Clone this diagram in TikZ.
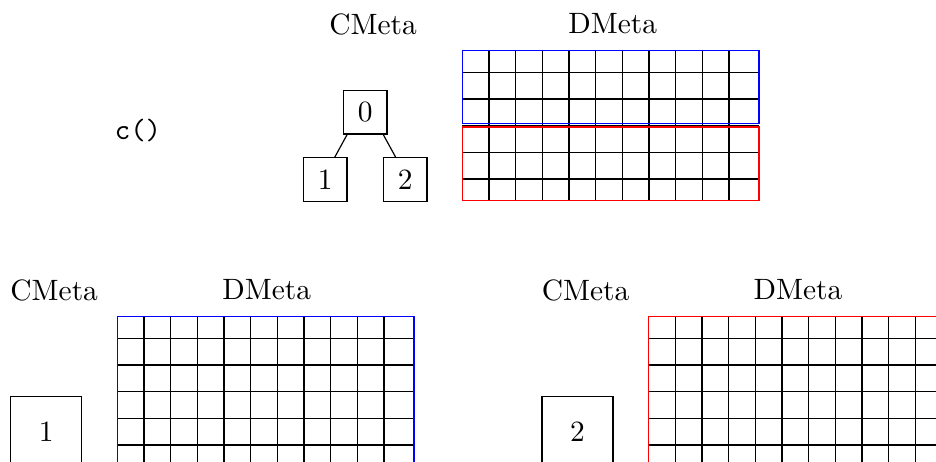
\documentclass[tikz,border=0pt]{standalone}
\usepackage{tikz}
\usetikzlibrary{positioning, calc}

\begin{document}
\begin{tikzpicture}[
    x=0.34pt, y=-0.34pt,
    % --- BASE STYLES ---
    cbox/.style={rectangle, draw=black, inner sep=0pt, minimum size=14.8pt},
    bigbox/.style={rectangle, draw=black, inner sep=0pt, minimum size=24.1pt},
    title/.style={inner sep=2pt},
    line/.style={draw=black, thin},
    gridline/.style={draw=black, thin}
]

\useasboundingbox (0,0) rectangle (936,462);
\clip (0,0) rectangle (936,462);

% ==========================================
% TOP: CALL c() WITH TREE AND DATA
% ==========================================
\node[title] (call) at (138,131) {\texttt{c()}};
\node[title] (cmeta0) at (373,24) {CMeta};
\node[title] (dmeta0) at (612.7,24) {DMeta};

% Tree of CMeta
\node[cbox] (n0) at (365.2,112.3) {0};
\node[cbox, below=7.7pt of n0, xshift=-13.6pt] (n1) {1};
\node[cbox, below=7.7pt of n0, xshift=13.6pt] (n2) {2};
\draw[line] (n0.231) -- (n1.67);
\draw[line] (n0.309) -- (n2.113);

% DMeta grid, split in blue and red halves
\coordinate (dgrid) at (462.3,50.7);
\foreach \k in {1,...,10}
    \draw[gridline] ($(dgrid)+(\k*26.67,0)$) -- ++(0,149.6);
\foreach \j in {0,...,4}
    \draw[gridline] ($(dgrid)+(0,21.6+\j*26.67)$) -- ++(296.7,0);
\draw[blue] (dgrid) rectangle ++(296.7,72.6);
\draw[red] ($(dgrid)+(0,76.3)$) rectangle ++(296.7,73.6);

% ==========================================
% BOTTOM: ONE PART PER CHILD
% ==========================================
\foreach \dx/\col/\id in {0/blue/1, 531.3/red/2} {
    \begin{scope}[shift={(\dx,0)}]
        \node[title] (cmeta\id) at (54.2,290) {CMeta};
        \node[title] (dmeta\id) at (266.7,290) {DMeta};
        \node[bigbox] (c\id) at (46.2,431.7) {\id};

        \coordinate (dgrid) at (117.3,316.7);
        \foreach \k in {1,...,10}
            \draw[gridline] ($(dgrid)+(\k*26.67,0)$) -- ++(0,149.6);
        \foreach \j in {0,...,4}
            \draw[gridline] ($(dgrid)+(0,21.6+\j*26.67)$) -- ++(296.7,0);
        \draw[\col] (dgrid) rectangle ++(296.7,149.6);
    \end{scope}
}

\end{tikzpicture}
\end{document}
